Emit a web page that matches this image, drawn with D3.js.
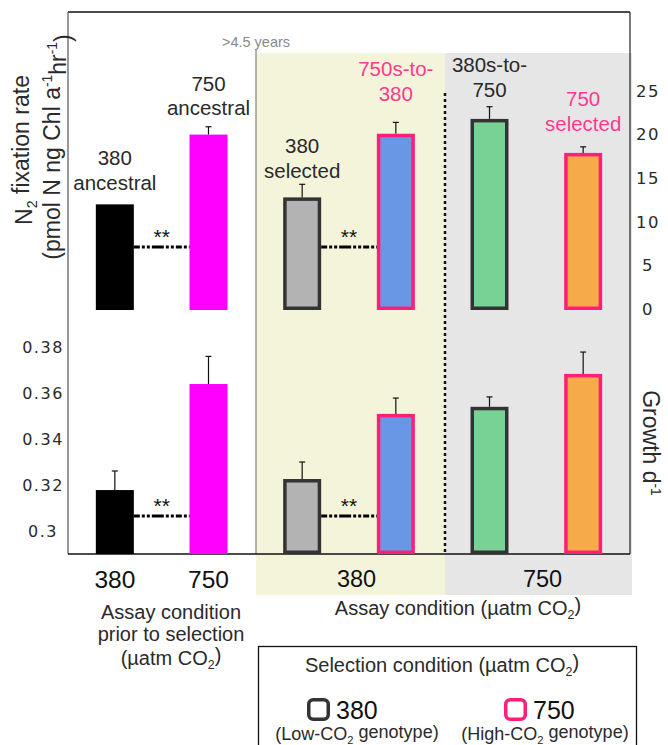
<!DOCTYPE html>
<html><head><meta charset="utf-8">
<script src="https://cdn.jsdelivr.net/npm/d3@7/dist/d3.min.js"></script>
<style>
html,body{margin:0;padding:0;background:#fff;}
svg{display:block;font-family:"Liberation Sans",Arial,sans-serif;}
</style></head>
<body>
<svg id="chart" width="668" height="745"></svg>
<script>
const categories = ["380 ancestral","750 ancestral","380 selected","750s-to-380","380s-to-750","750 selected"];
const n2Values = [12.0, 20.0, 12.8, 20.1, 21.8, 17.9];
const n2Errors = [0, 0.9, 1.5, 1.3, 1.4, 0.7];
const growthValues = [0.3178, 0.3639, 0.3226, 0.3509, 0.3540, 0.3683];
const growthErrors = [0.0083, 0.0120, 0.0074, 0.0069, 0.0043, 0.0095];
const n2Ticks = [0, 5, 10, 15, 20, 25];
const growthTicks = [0.30, 0.32, 0.34, 0.36, 0.38];
const growthTickLabels = ["0.3", "0.32", "0.34", "0.36", "0.38"];
const assayLabelsLeft = ["380", "750"];
const assayLabelsRight = ["380", "750"];
const barLabels = [["380","ancestral"],["750","ancestral"],["380","selected"],["750s-to-","380"],["380s-to-","750"],["750","selected"]];
const selection = ["none","none","380","750","380","750"];

const fills = ["#000000","#ff00ff","#b3b3b3","#6a97e5","#78d195","#f7aa4a"];
const strokeFor = {"none":null,"380":"#333333","750":"#ff1f78"};
const labelColor = {"none":"#2a2a2a","380":"#2a2a2a","750":"#ff3a8e"};
const TXT = "#2a2a2a";

const svg = d3.select("#chart");
const L = 68, R = 630, T = 12, B = 554;

const x = d3.scalePoint().domain(categories).range([L, R]).padding(0.5);
const yTop = d3.scaleLinear().domain([0, 25]).range([309, 91]);
const yBot = d3.scaleLinear().domain([0.29, 0.38]).range([554, 347]);
const barW = 38;

// backgrounds
const xSplit1 = 256, xSplit2 = 445;
svg.append("rect").attr("x", xSplit1).attr("y", 53).attr("width", xSplit2 - xSplit1).attr("height", 595 - 53).attr("fill", "#f4f4da");
svg.append("rect").attr("x", xSplit2).attr("y", 53).attr("width", 632 - xSplit2).attr("height", 595 - 53).attr("fill", "#e6e6e6");

// frame
svg.append("line").attr("x1", L).attr("x2", R).attr("y1", T).attr("y2", T).attr("stroke", "#111").attr("stroke-width", 1.3);
svg.append("line").attr("x1", L).attr("x2", L).attr("y1", T).attr("y2", B).attr("stroke", "#555").attr("stroke-width", 1.2);
svg.append("line").attr("x1", R).attr("x2", R).attr("y1", T).attr("y2", B).attr("stroke", "#222").attr("stroke-width", 1.2);
svg.append("line").attr("x1", xSplit1).attr("x2", xSplit1).attr("y1", 50).attr("y2", B).attr("stroke", "#999").attr("stroke-width", 1.5);
svg.append("line").attr("x1", L).attr("x2", R).attr("y1", B).attr("y2", B).attr("stroke", "#111").attr("stroke-width", 1.3);
svg.append("line").attr("x1", xSplit2).attr("x2", xSplit2).attr("y1", 93).attr("y2", B).attr("stroke", "#111").attr("stroke-width", 2.5).attr("stroke-dasharray", "3,3");

svg.append("text").attr("x", 256).attr("y", 47).attr("text-anchor", "middle").attr("font-size", 14.5).attr("fill", "#8a8a8a").text(">4.5 years");

// bars
function drawBars(yScale, values, errors, base) {
  const g = svg.append("g");
  categories.forEach((c, i) => {
    const s = strokeFor[selection[i]];
    const sw = s ? 3.5 : 0;
    const x0 = x(c) - barW / 2 + sw / 2;
    const w = barW - sw;
    const yv = yScale(values[i]);
    if (errors[i] > 0) {
      const ye = yScale(values[i] + errors[i]);
      g.append("line").attr("x1", x(c)).attr("x2", x(c)).attr("y1", yv).attr("y2", ye).attr("stroke", "#111").attr("stroke-width", 1.2);
      g.append("line").attr("x1", x(c) - 3).attr("x2", x(c) + 3).attr("y1", ye).attr("y2", ye).attr("stroke", "#111").attr("stroke-width", 1.2);
    }
    g.append("rect").attr("x", x0).attr("y", yv + sw / 2).attr("width", w).attr("height", base - yv - sw)
      .attr("fill", fills[i]).attr("stroke", s).attr("stroke-width", sw);
  });
}
drawBars(yTop, n2Values, n2Errors, yTop(0) + 1);
drawBars(yBot, growthValues, growthErrors, yBot(0.29));

// significance
function sig(i1, i2, yy) {
  const xa = x(categories[i1]) + barW / 2, xb = x(categories[i2]) - barW / 2;
  svg.append("line").attr("x1", xa).attr("x2", xb).attr("y1", yy).attr("y2", yy)
    .attr("stroke", "#000").attr("stroke-width", 3).attr("stroke-dasharray", "6,2,3,2,3,2,12,2,3,2,3,2");
  svg.append("text").attr("x", (xa + xb) / 2).attr("y", yy - 3).attr("text-anchor", "middle").attr("font-size", 21).attr("fill", "#111").text("**");
}
sig(0, 1, 247); sig(2, 3, 247);
sig(0, 1, 516); sig(2, 3, 516);

// bar labels
const labelY = [[165, 190], [91, 115], [153, 178], [76, 101], [72, 97], [106, 131]];
barLabels.forEach((lines, i) => {
  const t = svg.append("text").attr("text-anchor", "middle").attr("font-size", 20.5).attr("fill", labelColor[selection[i]]);
  lines.forEach((ln, j) => t.append("tspan").attr("x", x(categories[i])).attr("y", labelY[i][j]).text(ln));
});

// right axis (N2)
const axR = svg.append("g").attr("transform", `translate(${R + 6},0)`)
  .call(d3.axisRight(yTop).tickValues(n2Ticks).tickSize(0).tickPadding(0));
axR.select(".domain").remove();
axR.selectAll("text").attr("x", 12).attr("text-anchor", "middle").attr("font-size", 16.5).attr("fill", TXT)
  .attr("font-family", "'DejaVu Sans', sans-serif").attr("letter-spacing", 1.5);

// left axis (growth)
const axL = svg.append("g").attr("transform", `translate(${L - 4},0)`)
  .call(d3.axisLeft(yBot).tickValues(growthTicks).tickFormat((d, i) => growthTickLabels[i]).tickSize(0).tickPadding(0));
axL.select(".domain").remove();
axL.selectAll("text").attr("x", -21).attr("text-anchor", "middle").attr("font-size", 16).attr("fill", TXT)
  .attr("font-family", "'DejaVu Sans', sans-serif").attr("letter-spacing", 1.5);

// x labels
[0, 1].forEach(i => svg.append("text").attr("x", x(categories[i])).attr("y", 588).attr("text-anchor", "middle").attr("font-size", 24.5).attr("fill", "#111").text(assayLabelsLeft[i]));
svg.append("text").attr("x", (xSplit1 + xSplit2) / 2 + 6).attr("y", 587).attr("text-anchor", "middle").attr("font-size", 23.5).attr("fill", "#111").text(assayLabelsRight[0]);
svg.append("text").attr("x", (xSplit2 + 632) / 2 + 4).attr("y", 587).attr("text-anchor", "middle").attr("font-size", 23.5).attr("fill", "#111").text(assayLabelsRight[1]);

function co2(t, pre, post) {
  t.append("tspan").text(pre + "CO");
  t.append("tspan").attr("font-size", "0.62em").attr("dy", "0.35em").text("2");
  t.append("tspan").attr("dy", "-0.35em").text(post);
}
let t = svg.append("text").attr("x", 458).attr("y", 615).attr("text-anchor", "middle").attr("font-size", 20).attr("fill", TXT);
co2(t.append("tspan"), "Assay condition (µatm ", ")");

[["Assay condition", 619], ["prior to selection", 641]].forEach(([s, yy]) =>
  svg.append("text").attr("x", 171).attr("y", yy).attr("text-anchor", "middle").attr("font-size", 20).attr("fill", TXT).text(s));
t = svg.append("text").attr("x", 171).attr("y", 665).attr("text-anchor", "middle").attr("font-size", 20).attr("fill", TXT);
co2(t.append("tspan"), "(µatm ", ")");

// y titles
t = svg.append("text").attr("transform", "translate(32,150) rotate(-90)").attr("text-anchor", "middle").attr("font-size", 23).attr("fill", TXT);
t.append("tspan").text("N");
t.append("tspan").attr("font-size", "0.62em").attr("dy", "0.35em").text("2");
t.append("tspan").attr("dy", "-0.35em").text(" fixation rate");
t = svg.append("text").attr("transform", "translate(60,147) rotate(-90)").attr("text-anchor", "middle").attr("font-size", 23).attr("fill", TXT);
t.append("tspan").text("(pmol N ng Chl a");
t.append("tspan").attr("font-size", "0.6em").attr("dy", "-0.6em").text("-1");
t.append("tspan").attr("dy", "0.6em").text("hr");
t.append("tspan").attr("font-size", "0.6em").attr("dy", "-0.6em").text("-1");
t.append("tspan").attr("dy", "0.6em").text(")");

t = svg.append("text").attr("transform", "translate(643,443) rotate(90)").attr("text-anchor", "middle").attr("font-size", 23).attr("fill", TXT);
t.append("tspan").text("Growth d");
t.append("tspan").attr("font-size", "0.6em").attr("dy", "-0.6em").text("-1");

// legend
svg.append("rect").attr("x", 258.5).attr("y", 646.5).attr("width", 378).attr("height", 110).attr("fill", "#fff").attr("stroke", "#111").attr("stroke-width", 1.3);
t = svg.append("text").attr("x", 442).attr("y", 672).attr("text-anchor", "middle").attr("font-size", 20).attr("fill", TXT);
co2(t.append("tspan"), "Selection condition (µatm ", ")");

const legendItems = [{k: "380", x: 307, sub: "Low", cx: 357}, {k: "750", x: 504, sub: "High", cx: 545}];
legendItems.forEach(d => {
  svg.append("rect").attr("x", d.x + 1.75).attr("y", 699.75).attr("width", 19.5).attr("height", 19.5).attr("rx", 4.5)
    .attr("fill", "none").attr("stroke", strokeFor[d.k]).attr("stroke-width", 3.5);
  svg.append("text").attr("x", d.x + 29).attr("y", 719).attr("font-size", 25).attr("fill", "#111").text(d.k);
  const tt = svg.append("text").attr("x", d.cx).attr("y", 740).attr("text-anchor", "middle").attr("font-size", 18).attr("fill", TXT);
  co2(tt.append("tspan"), "(" + d.sub + "-", " genotype)");
});
</script>
</body></html>
